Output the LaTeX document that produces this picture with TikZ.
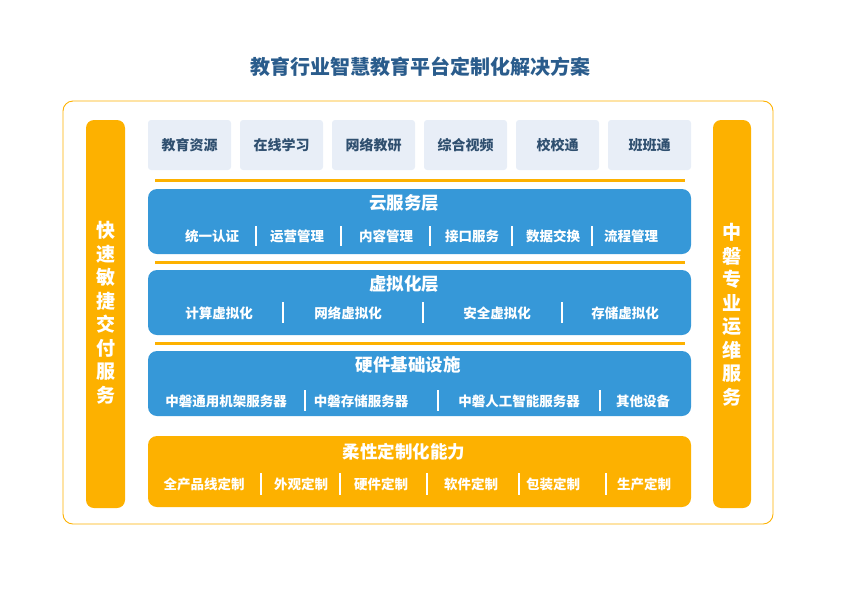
\documentclass[tikz,border=0pt]{standalone}
\usepackage{fontspec}
\setmainfont{Noto Sans CJK SC}
\usetikzlibrary{positioning}
\definecolor{titleblue}{HTML}{2A5C8C}
\definecolor{layerblue}{HTML}{3698D8}
\definecolor{bargold}{HTML}{FDB100}
\definecolor{appfill}{HTML}{E8EEF7}
\definecolor{apptext}{HTML}{2F4F6F}
\tikzset{
  appbox/.style={fill=appfill, rounded corners=3pt, minimum width=83pt, minimum height=50pt, text=apptext, font=\bfseries\fontsize{14}{14}\selectfont},
  item/.style={text=white, font=\bfseries\fontsize{13.5}{14}\selectfont},
  head/.style={text=white, font=\bfseries\fontsize{17.5}{18}\selectfont},
  sep/.style={white, line width=1.2pt},
  rule/.style={bargold, line width=3pt},
  vtext/.style={text=white, font=\bfseries\fontsize{19}{23.5}\selectfont, align=center, text width=22pt}
}
\begin{document}
\begin{tikzpicture}[x=1pt,y=-1pt]
  \useasboundingbox (0,0) rectangle (842,595);
  \node[text=titleblue, font=\bfseries\fontsize{20}{20}\selectfont] (title) at (420,67) {教育行业智慧教育平台定制化解决方案};
  \draw[bargold, line width=0.9pt, rounded corners=10pt] (63,101) rectangle (773,524);

  % side bars
  \fill[bargold, rounded corners=8pt] (86,120) rectangle (125,508);
  \fill[bargold, rounded corners=8pt] (713,120) rectangle (751,508);
  \node[vtext] (left) at (105.5,313) {快\\速\\敏\\捷\\交\\付\\服\\务};
  \node[vtext] (right) at (732,315) {中\\磐\\专\\业\\运\\维\\服\\务};

  % applications
  \node[appbox] (app1) at (189.5,145) {教育资源};
  \node[appbox] (app2) at (281.5,145) {在线学习};
  \node[appbox] (app3) at (373.5,145) {网络教研};
  \node[appbox] (app4) at (465.5,145) {综合视频};
  \node[appbox] (app5) at (557.5,145) {校校通};
  \node[appbox] (app6) at (649.5,145) {班班通};

  % cloud layer
  \draw[rule] (155,180) -- (685,180);
  \fill[layerblue, rounded corners=9pt] (148,189) rectangle (691,254);
  \node[head] (cloud) at (404,203) {云服务层};
  \foreach \x/\t in {212/统一认证,297/运营管理,386/内容管理,472/接口服务,553/数据交换,631/流程管理}
    \node[item] at (\x,236) {\t};
  \foreach \x in {256,341,430,512,592}
    \draw[sep] (\x,226) -- (\x,246);

  % virtual layer
  \draw[rule] (155,262) -- (685,262);
  \fill[layerblue, rounded corners=9pt] (148,270) rectangle (691,335);
  \node[head] (virt) at (404,284) {虚拟化层};
  \foreach \x/\t in {219/计算虚拟化,348/网络虚拟化,497/安全虚拟化,625/存储虚拟化}
    \node[item] at (\x,313) {\t};
  \foreach \x in {283,423,562}
    \draw[sep] (\x,302) -- (\x,323);

  % hardware layer
  \draw[rule] (155,343) -- (685,343);
  \fill[layerblue, rounded corners=9pt] (148,351) rectangle (691,416);
  \node[head] (hw) at (408,365) {硬件基础设施};
  \foreach \x/\t in {226/中磐通用机架服务器,361/中磐存储服务器,519/中磐人工智能服务器,643/其他设备}
    \node[item] at (\x,401) {\t};
  \foreach \x in {305,438,600}
    \draw[sep] (\x,390) -- (\x,411);

  % custom layer
  \fill[bargold, rounded corners=9pt] (148,436) rectangle (691,507);
  \node[head] (custom) at (404,452) {柔性定制化能力};
  \foreach \x/\t in {204/全产品线定制,301/外观定制,381/硬件定制,471/软件定制,553/包装定制,644/生产定制}
    \node[item] at (\x,484) {\t};
  \foreach \x in {261,340,427,519,606}
    \draw[sep] (\x,473) -- (\x,495);
\end{tikzpicture}
\end{document}
